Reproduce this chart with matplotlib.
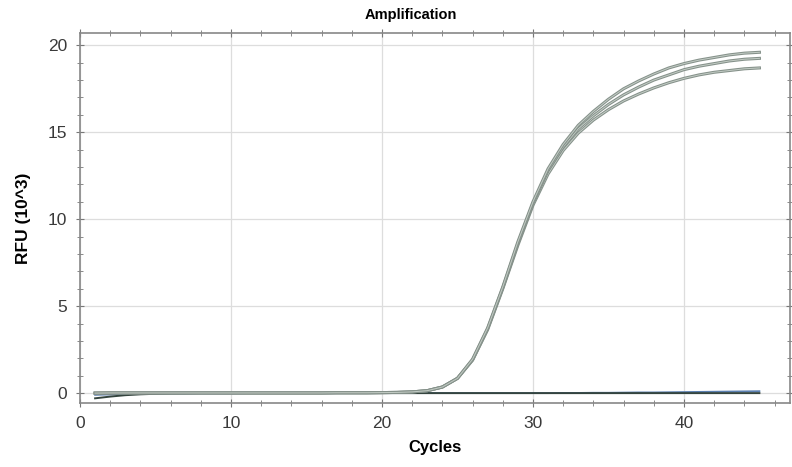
import numpy as np
import matplotlib
matplotlib.use("Agg")
import matplotlib.pyplot as plt
from matplotlib.ticker import MultipleLocator

plt.rcParams["font.family"] = ["Liberation Sans", "DejaVu Sans"]

cycles = np.arange(1, 46)

# amplification curves (RFU x 10^3)
amp_top = [0.0, 0.01, 0.01, 0.01, 0.01, 0.01, 0.01, 0.01, 0.01, 0.01,
           0.01, 0.01, 0.01, 0.01, 0.01, 0.01, 0.02, 0.02, 0.02, 0.03,
           0.04, 0.07, 0.14, 0.35, 0.85, 1.95, 3.75, 6.1, 8.7, 11.0,
           12.9, 14.3, 15.4, 16.2, 16.9, 17.5, 17.95, 18.35, 18.7, 18.95,
           19.15, 19.3, 19.45, 19.55, 19.6]
amp_mid = [0.0, 0.01, 0.01, 0.01, 0.01, 0.01, 0.01, 0.01, 0.01, 0.01,
           0.01, 0.01, 0.01, 0.01, 0.01, 0.01, 0.02, 0.02, 0.02, 0.03,
           0.04, 0.07, 0.14, 0.35, 0.85, 1.9, 3.7, 6.05, 8.6, 10.9,
           12.8, 14.15, 15.2, 15.95, 16.6, 17.15, 17.6, 18.0, 18.3, 18.6,
           18.8, 18.95, 19.1, 19.2, 19.25]
amp_low = [0.0, 0.01, 0.01, 0.01, 0.01, 0.01, 0.01, 0.01, 0.01, 0.01,
           0.01, 0.01, 0.01, 0.01, 0.01, 0.01, 0.02, 0.02, 0.02, 0.03,
           0.04, 0.07, 0.14, 0.35, 0.85, 1.9, 3.65, 6.0, 8.5, 10.8,
           12.6, 13.95, 14.95, 15.7, 16.3, 16.8, 17.2, 17.55, 17.85, 18.1,
           18.3, 18.45, 18.55, 18.65, 18.7]

# flat (negative) traces
base_dark = [-0.3, -0.2, -0.12, -0.07, -0.04, -0.02, -0.01, 0.0, 0.0, 0.0,
             0.0, 0.0, 0.0, 0.0, 0.0, 0.0, 0.0, 0.0, 0.0, 0.0,
             0.0, 0.0, 0.0, 0.0, 0.0, 0.0, 0.0, 0.0, 0.0, 0.0,
             0.0, 0.0, 0.0, 0.0, 0.0, 0.0, 0.0, 0.0, 0.0, 0.0,
             0.0, 0.0, 0.0, 0.0, 0.0]
base_blue = [-0.1, -0.08, -0.06, -0.04, -0.03, -0.02, -0.02, -0.01, -0.01, -0.01,
             0.0, 0.0, 0.0, 0.0, 0.0, 0.0, 0.0, 0.0, 0.0, 0.0,
             0.0, 0.0, 0.0, 0.0, 0.0, 0.0, 0.0, 0.0, 0.0, 0.0,
             0.0, 0.01, 0.01, 0.02, 0.02, 0.03, 0.04, 0.04, 0.05, 0.06,
             0.07, 0.08, 0.09, 0.1, 0.11]

fig = plt.figure(figsize=(7.92, 4.67), dpi=100)
ax = fig.add_axes([0.101, 0.137, 0.896, 0.792])

ax.plot(cycles, base_blue, color="#5a7fb0", lw=1.3)
ax.plot(cycles, base_dark, color="#34443e", lw=1.4)
for y in (amp_low, amp_mid, amp_top):
    ax.plot(cycles, y, color="#85918a", lw=2.2, solid_joinstyle="round")
    ax.plot(cycles, y, color="#c3ccc5", lw=0.7, solid_joinstyle="round")

ax.set_xlim(0, 47)
ax.set_ylim(-0.57, 20.7)
ax.xaxis.set_major_locator(MultipleLocator(10))
ax.xaxis.set_minor_locator(MultipleLocator(2))
ax.yaxis.set_major_locator(MultipleLocator(5))
ax.yaxis.set_minor_locator(MultipleLocator(1))
ax.grid(True, which="major", color="#dddddd", lw=0.9)
ax.tick_params(which="both", direction="inout", top=True, right=True,
               colors="#777777", labelcolor="#3a3a3a", labelsize=12.5)
ax.tick_params(which="major", length=6, pad=6)
ax.tick_params(which="minor", length=4)
for s in ax.spines.values():
    s.set_color("#888888")
    s.set_linewidth(1.2)

fig.text(0.519, 0.967, "Amplification", fontsize=10.5, fontweight="bold",
         ha="center", va="center")
ax.set_xlabel("Cycles", fontsize=12, fontweight="bold", labelpad=7)
ax.set_ylabel("RFU (10^3)", fontsize=12.5, fontweight="bold", labelpad=12)

fig.savefig("out.png", dpi=100)
